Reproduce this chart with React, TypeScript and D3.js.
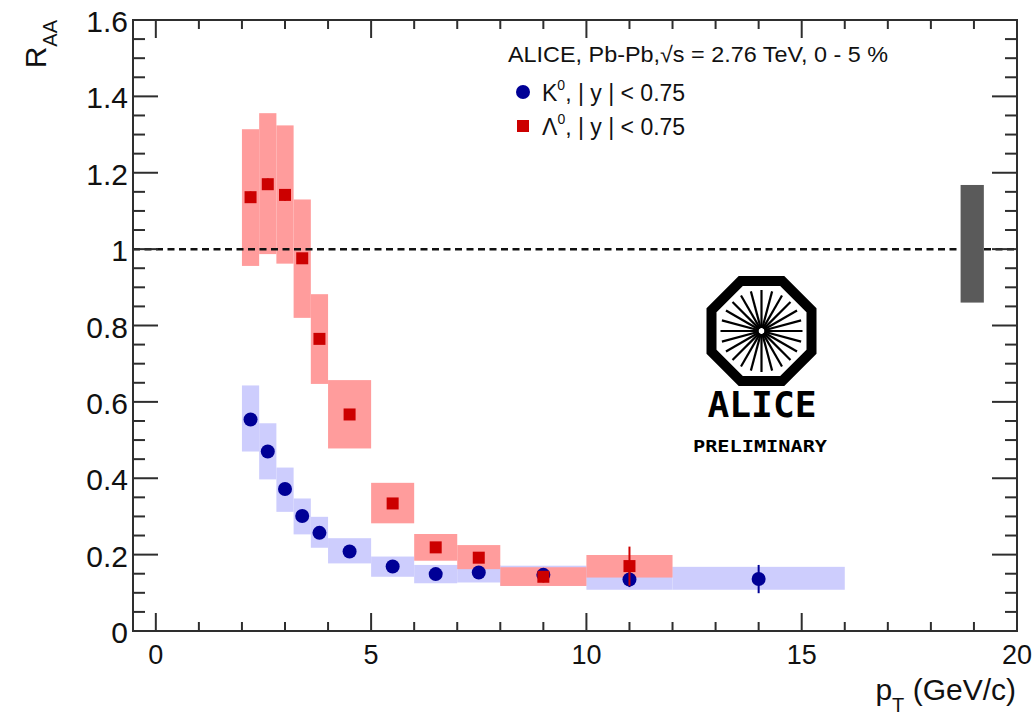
import React from "react";
import * as d3 from "d3";

// K0s nuclear modification factor, 0-5% Pb-Pb
const k0Pt = [2.2, 2.6, 3.0, 3.4, 3.8, 4.5, 5.5, 6.5, 7.5, 9, 11, 14];
const k0BinLo = [2.0, 2.4, 2.8, 3.2, 3.6, 4, 5, 6, 7, 8, 10, 12];
const k0BinHi = [2.4, 2.8, 3.2, 3.6, 4.0, 5, 6, 7, 8, 10, 12, 16];
const k0Raa = [0.554, 0.47, 0.372, 0.301, 0.257, 0.208, 0.169, 0.149, 0.153, 0.147, 0.135, 0.136];
const k0SysLo = [0.47, 0.397, 0.312, 0.253, 0.218, 0.177, 0.142, 0.125, 0.127, 0.118, 0.108, 0.108];
const k0SysHi = [0.643, 0.544, 0.428, 0.347, 0.299, 0.243, 0.195, 0.173, 0.173, 0.171, 0.168, 0.168];
const k0Stat = [0.012, 0.01, 0.008, 0.007, 0.006, 0.005, 0.005, 0.005, 0.006, 0.01, 0.02, 0.037];

// Lambda nuclear modification factor
const lamPt = [2.2, 2.6, 3.0, 3.4, 3.8, 4.5, 5.5, 6.5, 7.5, 9, 11];
const lamBinLo = [2.0, 2.4, 2.8, 3.2, 3.6, 4, 5, 6, 7, 8, 10];
const lamBinHi = [2.4, 2.8, 3.2, 3.6, 4.0, 5, 6, 7, 8, 10, 12];
const lamRaa = [1.136, 1.17, 1.142, 0.976, 0.765, 0.567, 0.334, 0.219, 0.192, 0.142, 0.17];
const lamSysLo = [0.956, 0.987, 0.962, 0.82, 0.647, 0.478, 0.282, 0.184, 0.162, 0.118, 0.14];
const lamSysHi = [1.314, 1.356, 1.324, 1.13, 0.882, 0.657, 0.388, 0.254, 0.225, 0.167, 0.199];
const lamStat = [0.015, 0.015, 0.015, 0.012, 0.01, 0.008, 0.008, 0.008, 0.01, 0.015, 0.051];

// Normalisation uncertainty band around unity
const normPtLo = 18.69;
const normPtHi = 19.23;
const normLo = 0.86;
const normHi = 1.168;

const yTicks = [0, 0.2, 0.4, 0.6, 0.8, 1.0, 1.2, 1.4, 1.6];
const yTickLabels = ["0", "0.2", "0.4", "0.6", "0.8", "1", "1.2", "1.4", "1.6"];
const xTicks = [0, 5, 10, 15, 20];
const xTickLabels = ["0", "5", "10", "15", "20"];

const W = 1036;
const H = 721;
const L = 133;
const R = 1017;
const T = 20;
const B = 631;

const FONT = "'Liberation Sans', Arial, Helvetica, sans-serif";
const RED_BOX = "#ff9c9c";
const RED = "#cc0000";
const BLUE_BOX = "#cdcdfd";
const BLUE = "#000096";
const FRAME = "#2e2e2e";

export default function App() {
  const x = d3.scaleLinear().domain([-0.53, 20]).range([L, R]);
  const y = d3.scaleLinear().domain([0, 1.6]).range([B, T]);

  const yMinor = d3.range(0, 1.6001, 0.05);
  const xMinor = d3.range(0, 20.001, 1);

  const k0 = k0Pt.map((p, i) => ({
    p, lo: k0BinLo[i], hi: k0BinHi[i], v: k0Raa[i], sl: k0SysLo[i], sh: k0SysHi[i], e: k0Stat[i],
  }));
  const lam = lamPt.map((p, i) => ({
    p, lo: lamBinLo[i], hi: lamBinHi[i], v: lamRaa[i], sl: lamSysLo[i], sh: lamSysHi[i], e: lamStat[i],
  }));

  // ALICE logo geometry
  const cx = 761.5;
  const cy = 331;
  const octR = 50 / Math.cos(Math.PI / 8);
  const octagon = d3.range(8).map((k) => {
    const a = Math.PI / 8 + (k * Math.PI) / 4;
    return [cx + octR * Math.cos(a), cy + octR * Math.sin(a)];
  });
  const spokes = d3.range(24).map((k) => (k * Math.PI) / 12);

  return (
    <svg
      width={W}
      height={H}
      style={{ position: "absolute", left: 0, top: 0, background: "#fff" }}
      fontFamily={FONT}
    >
      <rect width={W} height={H} fill="#fff" />

      {/* systematic boxes */}
      {k0.map((d, i) => (
        <rect key={"kb" + i} x={x(d.lo)} y={y(d.sh)} width={x(d.hi) - x(d.lo)} height={y(d.sl) - y(d.sh)} fill={BLUE_BOX} />
      ))}
      {lam.map((d, i) => (
        <rect key={"lb" + i} x={x(d.lo)} y={y(d.sh)} width={x(d.hi) - x(d.lo)} height={y(d.sl) - y(d.sh)} fill={RED_BOX} />
      ))}

      {/* unity reference */}
      <line x1={L} x2={R} y1={y(1)} y2={y(1)} stroke="#111" strokeWidth={2.5} strokeDasharray="7 4.5" />

      {/* normalisation box */}
      <rect x={x(normPtLo)} y={y(normHi)} width={x(normPtHi) - x(normPtLo)} height={y(normLo) - y(normHi)} fill="#5a5a5a" />

      {/* K0 points */}
      {k0.map((d, i) => (
        <g key={"kp" + i}>
          <line x1={x(d.p)} x2={x(d.p)} y1={y(d.v - d.e)} y2={y(d.v + d.e)} stroke={BLUE} strokeWidth={2} />
          <circle cx={x(d.p)} cy={y(d.v)} r={7} fill={BLUE} />
        </g>
      ))}
      {/* Lambda points */}
      {lam.map((d, i) => (
        <g key={"lp" + i}>
          <line x1={x(d.p)} x2={x(d.p)} y1={y(d.v - d.e)} y2={y(d.v + d.e)} stroke={RED} strokeWidth={2} />
          <rect x={x(d.p) - 6} y={y(d.v) - 6} width={12} height={12} fill={RED} />
        </g>
      ))}

      {/* frame */}
      <rect x={L} y={T} width={R - L} height={B - T} fill="none" stroke={FRAME} strokeWidth={2} />

      {/* y ticks, both sides */}
      {yMinor.map((v, i) => {
        const major = Math.abs(v / 0.2 - Math.round(v / 0.2)) < 1e-6;
        const len = major ? 25 : 12;
        return (
          <g key={"yt" + i} stroke={FRAME} strokeWidth={2}>
            <line x1={L} x2={L + len} y1={y(v)} y2={y(v)} />
            <line x1={R} x2={R - len} y1={y(v)} y2={y(v)} />
          </g>
        );
      })}
      {/* x ticks, both sides */}
      {xMinor.map((v, i) => {
        const major = v % 5 === 0;
        const len = major ? 18 : 9;
        return (
          <g key={"xt" + i} stroke={FRAME} strokeWidth={2}>
            <line x1={x(v)} x2={x(v)} y1={B} y2={B - len} />
            <line x1={x(v)} x2={x(v)} y1={T} y2={T + len} />
          </g>
        );
      })}

      {/* tick labels */}
      {yTicks.map((v, i) => (
        <text key={"yl" + i} x={128} y={y(v) + 12} textAnchor="end" fontSize={30} fill="#111">
          {yTickLabels[i]}
        </text>
      ))}
      {xTicks.map((v, i) => (
        <text key={"xl" + i} x={x(v)} y={664} textAnchor="middle" fontSize={27} fill="#111">
          {xTickLabels[i]}
        </text>
      ))}

      {/* axis titles */}
      <text x={1016} y={700} textAnchor="end" fontSize={30} fill="#111">
        p<tspan fontSize={20} dy={12}>T</tspan>
        <tspan fontSize={30} dy={-12}> (GeV/c)</tspan>
      </text>
      <text transform="translate(46,20) rotate(-90)" textAnchor="end" fontSize={30} fill="#111">
        R<tspan fontSize={20} dy={11}>AA</tspan>
      </text>

      {/* legend */}
      <text x={508} y={62} fontSize={22} textLength={380} lengthAdjust="spacingAndGlyphs" fill="#111">
        ALICE, Pb-Pb,√s = 2.76 TeV, 0 - 5 %
      </text>
      <circle cx={523} cy={92} r={7} fill={BLUE} />
      <text x={542} y={101} fontSize={23} fill="#111">
        K<tspan fontSize={14} dy={-11}>0</tspan>
        <tspan fontSize={23} dy={11}>, | y | &lt; 0.75</tspan>
      </text>
      <rect x={517} y={120} width={12} height={12} fill={RED} />
      <text x={542} y={135} fontSize={23} fill="#111">
        Λ<tspan fontSize={14} dy={-11}>0</tspan>
        <tspan fontSize={23} dy={11}>, | y | &lt; 0.75</tspan>
      </text>

      {/* ALICE preliminary logo */}
      <g>
        <polygon points={octagon.map((p) => p.join(",")).join(" ")} fill="none" stroke="#000" strokeWidth={10} />
        {spokes.map((a, i) => (
          <line
            key={"sp" + i}
            x1={cx + 3 * Math.cos(a)}
            y1={cy + 3 * Math.sin(a)}
            x2={cx + 41 * Math.cos(a)}
            y2={cy + 41 * Math.sin(a)}
            stroke="#000"
            strokeWidth={2.2}
          />
        ))}
        <text x={762} y={417} textAnchor="middle" fontSize={36} fontWeight="bold" fontFamily="'DejaVu Sans Mono', monospace" textLength={109} lengthAdjust="spacingAndGlyphs" fill="#000">
          ALICE
        </text>
        <text x={760} y={452} textAnchor="middle" fontSize={16} fontWeight="bold" fontFamily="'DejaVu Sans Mono', monospace" textLength={134} lengthAdjust="spacingAndGlyphs" fill="#000">
          PRELIMINARY
        </text>
      </g>
    </svg>
  );
}
